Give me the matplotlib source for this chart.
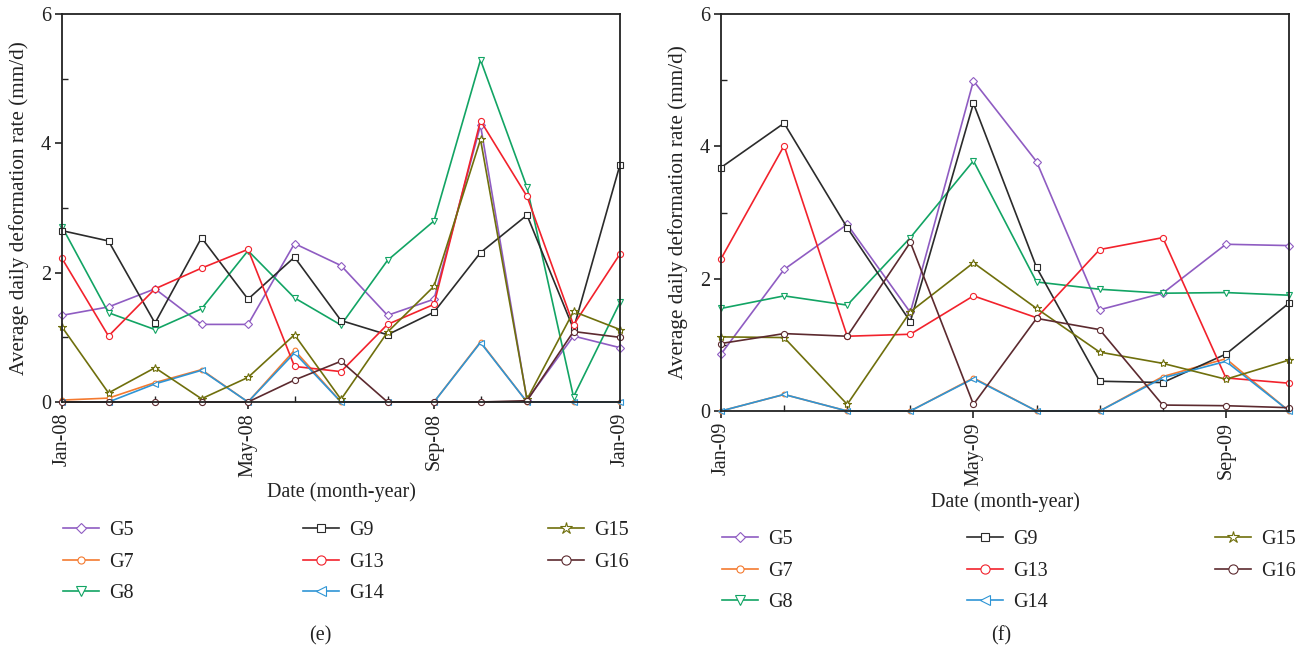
import matplotlib
matplotlib.use("Agg")
import matplotlib.pyplot as plt
from matplotlib.ticker import FixedLocator, MultipleLocator

# ---------------- data ----------------
series_names = ['G5', 'G7', 'G8', 'G9', 'G13', 'G14', 'G15', 'G16']
legend_columns = [['G5', 'G7', 'G8'], ['G9', 'G13', 'G14'], ['G15', 'G16']]

months_e = ['Jan-08', 'Feb-08', 'Mar-08', 'Apr-08', 'May-08', 'Jun-08', 'Jul-08',
            'Aug-08', 'Sep-08', 'Oct-08', 'Nov-08', 'Dec-08', 'Jan-09']
e_G5 = [1.34, 1.47, 1.75, 1.20, 1.20, 2.45, 2.11, 1.34, 1.59, 4.28, 0.03, 1.02, 0.84]
e_G7 = [0.03, 0.06, 0.30, 0.50, 0.00, 0.80, 0.00, 0.00, 0.00, 0.93, 0.00, 0.00, 0.00]
e_G8 = [2.71, 1.38, 1.12, 1.44, 2.34, 1.61, 1.19, 2.19, 2.80, 5.29, 3.32, 0.08, 1.54]
e_G9 = [2.65, 2.49, 1.22, 2.54, 1.59, 2.24, 1.26, 1.04, 1.39, 2.31, 2.89, 1.13, 3.67]
e_G13 = [2.22, 1.02, 1.75, 2.07, 2.36, 0.55, 0.47, 1.20, 1.51, 4.35, 3.18, 1.19, 2.29]
e_G14 = [0.00, 0.00, 0.28, 0.49, 0.00, 0.76, 0.00, 0.00, 0.00, 0.92, 0.00, 0.00, 0.00]
e_G15 = [1.16, 0.14, 0.53, 0.05, 0.38, 1.04, 0.04, 1.08, 1.79, 4.06, 0.04, 1.40, 1.12]
e_G16 = [0.00, 0.00, 0.00, 0.00, 0.00, 0.34, 0.63, 0.00, 0.00, 0.00, 0.02, 1.09, 1.00]
ticks_e = ['Jan-08', 'May-08', 'Sep-08', 'Jan-09']

months_f = ['Jan-09', 'Feb-09', 'Mar-09', 'Apr-09', 'May-09', 'Jun-09', 'Jul-09',
            'Aug-09', 'Sep-09', 'Oct-09']
f_G5 = [0.86, 2.14, 2.82, 1.49, 4.99, 3.77, 1.53, 1.78, 2.52, 2.50]
f_G7 = [0.00, 0.25, 0.00, 0.00, 0.50, 0.00, 0.00, 0.52, 0.79, 0.00]
f_G8 = [1.55, 1.74, 1.60, 2.62, 3.78, 1.95, 1.84, 1.78, 1.79, 1.75]
f_G9 = [3.68, 4.35, 2.77, 1.35, 4.65, 2.17, 0.45, 0.43, 0.86, 1.63]
f_G13 = [2.30, 4.01, 1.13, 1.16, 1.74, 1.41, 2.44, 2.62, 0.50, 0.42]
f_G14 = [0.00, 0.25, 0.00, 0.00, 0.49, 0.00, 0.00, 0.50, 0.75, 0.00]
f_G15 = [1.12, 1.11, 0.10, 1.50, 2.24, 1.55, 0.89, 0.72, 0.48, 0.77]
f_G16 = [1.02, 1.17, 1.13, 2.55, 0.10, 1.40, 1.23, 0.09, 0.08, 0.05]
ticks_f = ['Jan-09', 'May-09', 'Sep-09']

# ---------------- style ----------------
colors = {'G5': '#8f5cc2', 'G7': '#f47a30', 'G8': '#12a464', 'G9': '#2b2b2b',
          'G13': '#f2222c', 'G14': '#2f95d5', 'G15': '#6f6f0c', 'G16': '#5c2a2f'}
markers = {'G5': 'D', 'G7': 'o', 'G8': 'v', 'G9': 's',
           'G13': 'o', 'G14': '<', 'G15': '*', 'G16': 'o'}
msizes = {'G5': 3.6, 'G7': 3.4, 'G8': 5.0, 'G9': 4.2,
          'G13': 4.4, 'G14': 5.0, 'G15': 6.0, 'G16': 4.4}

plt.rcParams['font.family'] = ['Liberation Serif', 'DejaVu Serif']
plt.rcParams['axes.linewidth'] = 1.3
plt.rcParams['axes.edgecolor'] = '#222222'

W, H = 1301, 652
FS = 14.5
fig = plt.figure(figsize=(W / 100, H / 100), dpi=100)


def px_axes(x0, y0, x1, y1):
    return fig.add_axes([x0 / W, 1 - y1 / H, (x1 - x0) / W, (y1 - y0) / H])


def draw_panel(ax, months, data, tick_labels):
    x = list(range(len(months)))
    handles = {}
    for name in series_names:
        line, = ax.plot(x, data[name], color=colors[name], marker=markers[name],
                        markersize=msizes[name], markerfacecolor='white',
                        markeredgecolor=colors[name], markeredgewidth=0.8,
                        linewidth=1.2, label=name, clip_on=False)
        handles[name] = line
    ax.set_xlim(0, len(months) - 1)
    ax.set_ylim(0, 6)
    major_pos = [months.index(t) for t in tick_labels]
    ax.xaxis.set_major_locator(FixedLocator(major_pos))
    ax.set_xticklabels(tick_labels, rotation=90)
    ax.xaxis.set_minor_locator(MultipleLocator(1))
    ax.yaxis.set_major_locator(MultipleLocator(2))
    ax.yaxis.set_minor_locator(MultipleLocator(1))
    ax.tick_params(which='major', direction='out', length=5, width=1.2,
                   labelsize=FS, colors='#222222', pad=3)
    ax.tick_params(which='minor', direction='in', length=4, width=1.0,
                   colors='#222222')
    ax.set_ylabel('Average daily deformation rate (mm/d)', fontsize=15.3,
                  color='#222222')
    ax.set_xlabel('Date (month-year)', fontsize=FS, color='#222222')
    return handles


def add_legends(handles, col_x, top_y):
    for names, xpx in zip(legend_columns, col_x):
        fig.legend([handles[n] for n in names], names, ncol=1, frameon=False,
                   fontsize=FS, handlelength=1.8, handletextpad=0.5,
                   labelspacing=0.62, borderpad=0, borderaxespad=0,
                   markerscale=1.5, loc='upper left',
                   bbox_to_anchor=(xpx / W, 1 - top_y / H),
                   bbox_transform=fig.transFigure, labelcolor='#222222')


data_e = {'G5': e_G5, 'G7': e_G7, 'G8': e_G8, 'G9': e_G9,
          'G13': e_G13, 'G14': e_G14, 'G15': e_G15, 'G16': e_G16}
data_f = {'G5': f_G5, 'G7': f_G7, 'G8': f_G8, 'G9': f_G9,
          'G13': f_G13, 'G14': f_G14, 'G15': f_G15, 'G16': f_G16}

ax1 = px_axes(62, 14, 620, 402)
h1 = draw_panel(ax1, months_e, data_e, ticks_e)
ax1.yaxis.set_label_coords((29 - 62) / 558, 0.5)
ax1.xaxis.set_label_coords(0.5, (402 - 482) / 388)
add_legends(h1, [63, 303, 548], 521)

ax2 = px_axes(721, 14, 1289, 411)
h2 = draw_panel(ax2, months_f, data_f, ticks_f)
ax2.yaxis.set_label_coords((688 - 721) / 568, 0.5)
ax2.xaxis.set_label_coords(0.5, (411 - 492) / 397)
add_legends(h2, [722, 967, 1215], 530)

fig.text(320 / W, 1 - 636 / H, '(e)', ha='center', va='center',
         fontsize=FS, color='#222222')
fig.text(1001 / W, 1 - 636 / H, '(f)', ha='center', va='center',
         fontsize=FS, color='#222222')

fig.savefig('out.png', dpi=100)
